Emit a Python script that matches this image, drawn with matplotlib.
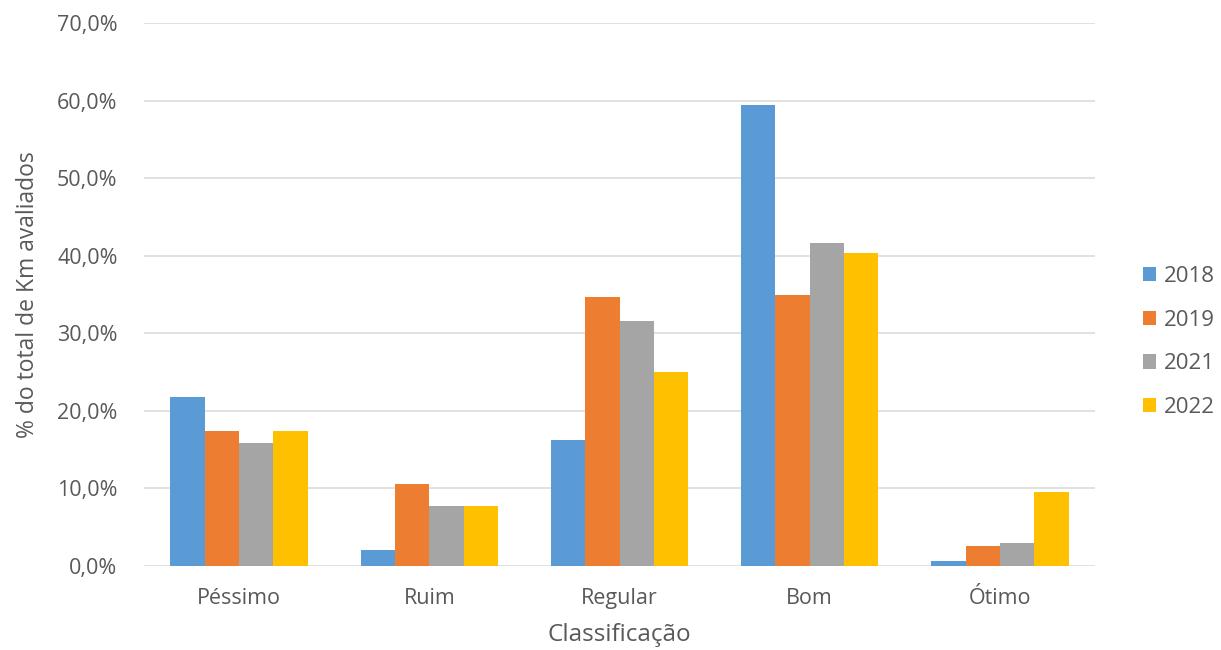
import matplotlib
matplotlib.use("Agg")
import matplotlib.pyplot as plt
import numpy as np
from matplotlib.patches import Patch
from matplotlib.ticker import FuncFormatter, MultipleLocator

plt.rcParams['font.family'] = ['Open Sans', 'DejaVu Sans']

categories = ["Péssimo", "Ruim", "Regular", "Bom", "Ótimo"]
years = ["2018", "2019", "2021", "2022"]
v2018 = [21.8, 2.0, 16.3, 59.4, 0.7]
v2019 = [17.4, 10.6, 34.7, 34.9, 2.6]
v2021 = [15.9, 7.8, 31.6, 41.7, 3.0]
v2022 = [17.4, 7.8, 25.0, 40.4, 9.5]
series = [v2018, v2019, v2021, v2022]
colors = ["#5B9BD5", "#ED7D31", "#A5A5A5", "#FFC000"]

text_color = "#595959"
fig = plt.figure(figsize=(12.21, 6.5), dpi=100)
ax = fig.add_axes([144/1221, (650-566)/650, (1095-144)/1221, (566-23.3)/650])

x = np.arange(len(categories))
bw = 0.1806
for i, (vals, c) in enumerate(zip(series, colors)):
    ax.bar(x + (i - 1.5) * bw, vals, width=bw, color=c, label=years[i], zorder=3)

ax.set_xlim(-0.5, len(categories) - 0.5)
ax.set_ylim(0, 70)
ax.yaxis.set_major_locator(MultipleLocator(10))
ax.yaxis.set_major_formatter(FuncFormatter(lambda v, p: f"{v:.1f}%".replace('.', ',')))
ax.grid(axis='y', color="#D9D9D9", linewidth=1.1, zorder=0)
ax.set_axisbelow(True)
for s in ax.spines.values():
    s.set_visible(False)
ax.set_xticks(x)
ax.set_xticklabels(categories)
ax.tick_params(axis='both', length=0, labelsize=15.5, labelcolor=text_color)
ax.tick_params(axis='y', pad=19)
ax.tick_params(axis='x', pad=16)
ax.set_xlabel("Classificação", fontsize=17.5, color=text_color, labelpad=10)
ax.set_ylabel("% do total de Km avaliados", fontsize=16.5, color=text_color, labelpad=12)

handles = [Patch(facecolor=c, edgecolor='none') for c in colors]
fig.legend(handles, years, loc='center left', bbox_to_anchor=(1123/1221, 1 - 342/650),
           frameon=False, fontsize=16, labelcolor=text_color,
           handlelength=0.6, handleheight=0.6, handletextpad=0.32, labelspacing=1.02)

fig.savefig("out.png", dpi=100)
